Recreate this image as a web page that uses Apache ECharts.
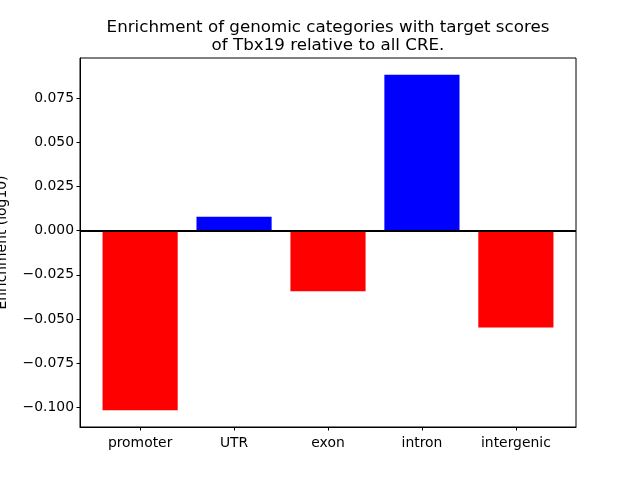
<!DOCTYPE html>
<html><head><meta charset="utf-8">
<script src="https://cdn.jsdelivr.net/npm/echarts@6/dist/echarts.min.js"></script>
<style>html,body{margin:0;padding:0;background:#fff}#c{width:640px;height:480px}</style>
</head><body><div id="c"></div>
<script>
const categories = ["promoter", "UTR", "exon", "intron", "intergenic"];
const values = [-0.1015, 0.0079, -0.0343, 0.0881, -0.0548];
const yTicks = [-0.100, -0.075, -0.050, -0.025, 0.000, 0.025, 0.050, 0.075];
const titleText = "Enrichment of genomic categories with target scores\nof Tbx19 relative to all CRE.";
const yLabel = "Enrichment (log10)";

const font = "DejaVu Sans";
const gridLeft = 80, gridRight = 64, gridTop = 58, gridBottom = 53;
const xMin = -0.64, xMax = categories.length - 1 + 0.64;
const plotW = 640 - gridLeft - gridRight;
const barW = 0.8 * plotW / (xMax - xMin);
const dMin = Math.min(...values), dMax = Math.max(...values);
const pad = (dMax - dMin) * 0.05;

const chart = echarts.init(document.getElementById('c'), null, {renderer: 'canvas'});
chart.setOption({
  animation: false,
  backgroundColor: '#fff',
  title: {
    text: titleText, left: gridLeft + plotW / 2 - 5, textAlign: 'center', top: 14,
    textStyle: {fontFamily: font, fontSize: 16.7, fontWeight: 'normal', color: '#000', lineHeight: 17.5}
  },
  grid: {left: gridLeft, right: gridRight, top: gridTop, bottom: gridBottom, show: true, borderColor: '#000', borderWidth: 1, backgroundColor: 'transparent', containLabel: false, outerBoundsMode: 'none'},
  xAxis: {
    type: 'value', min: xMin, max: xMax,
    axisLine: {show: true, onZero: false, lineStyle: {color: '#000', width: 1}},
    splitLine: {show: false},
    axisTick: {show: true, customValues: categories.map((c, i) => i), length: 3.5, lineStyle: {color: '#000'}},
    axisLabel: {customValues: categories.map((c, i) => i), formatter: v => categories[Math.round(v)] ?? '', fontFamily: font, fontSize: 13.9, color: '#000', margin: 9}
  },
  yAxis: {
    type: 'value', min: dMin - pad, max: dMax + pad,
    name: yLabel, nameLocation: 'middle', nameGap: 71, nameRotate: 90,
    nameTextStyle: {fontFamily: font, fontSize: 13.9, color: '#000'},
    axisLine: {show: true, onZero: false, lineStyle: {color: '#000', width: 1}},
    splitLine: {show: false},
    axisTick: {show: true, customValues: yTicks, length: 3.5, lineStyle: {color: '#000'}},
    axisLabel: {customValues: yTicks, formatter: v => v.toFixed(3).replace('-', '\u2212'), fontFamily: font, fontSize: 13.9, color: '#000', margin: 6}
  },
  series: [{
    type: 'bar',
    barWidth: barW,
    data: values.map((v, i) => ({value: [i, v], itemStyle: {color: v >= 0 ? '#0000ff' : '#ff0000'}})),
    markLine: {
      silent: true, symbol: 'none', label: {show: false},
      lineStyle: {color: '#000', width: 2, type: 'solid'},
      data: [{yAxis: 0}]
    }
  }]
});
</script></body></html>
